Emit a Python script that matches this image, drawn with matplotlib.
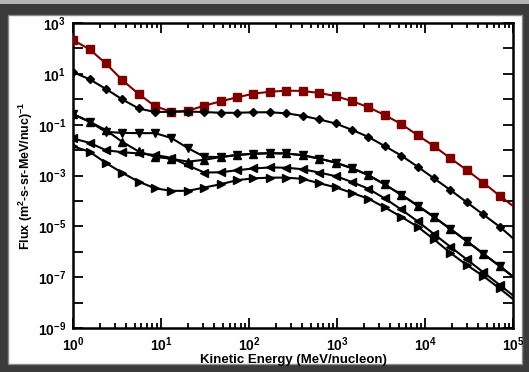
import matplotlib
matplotlib.use('Agg')
import matplotlib.pyplot as plt
from matplotlib.patches import Rectangle
from matplotlib.ticker import FixedLocator, FuncFormatter, LogLocator, NullFormatter
import numpy as np

plt.rcParams['font.family'] = ['Liberation Sans', 'DejaVu Sans']
plt.rcParams['font.weight'] = 'bold'
plt.rcParams['mathtext.fontset'] = 'custom'
plt.rcParams['mathtext.rm'] = 'Liberation Sans:bold'
plt.rcParams['mathtext.bf'] = 'Liberation Sans:bold'
plt.rcParams['mathtext.default'] = 'bf'

# kinetic energy grid (MeV/nucleon), last point has no marker
energy = [1.0, 1.54, 2.36, 3.62, 5.57, 8.55, 13.1, 20.2, 31.0, 47.6, 73.1,
          112, 173, 265, 407, 625, 960, 1475, 2266, 3480, 5346, 8212,
          12614, 19375, 29760, 45710, 70210, 100000]

# log10 of flux
log_flux_sq = [2.33, 1.97, 1.41, 0.76, 0.21, -0.27, -0.49, -0.45, -0.25, -0.08,
               0.08, 0.22, 0.30, 0.34, 0.33, 0.25, 0.13, -0.07, -0.31, -0.62,
               -0.97, -1.41, -1.84, -2.32, -2.78, -3.28, -3.79, -4.20]
log_flux_dm = [1.07, 0.79, 0.41, 0.00, -0.36, -0.50, -0.49, -0.48, -0.50, -0.53,
               -0.53, -0.51, -0.51, -0.55, -0.65, -0.79, -0.95, -1.20, -1.48, -1.84,
               -2.21, -2.65, -3.11, -3.57, -4.05, -4.53, -5.01, -5.47]
log_flux_dn = [-0.58, -0.88, -1.28, -1.32, -1.33, -1.33, -1.52, -1.92, -2.26, -2.27,
               -2.19, -2.14, -2.12, -2.13, -2.20, -2.33, -2.49, -2.71, -2.98, -3.35,
               -3.75, -4.18, -4.63, -5.10, -5.58, -6.07, -6.56, -6.98]
log_flux_up = [-0.58, -0.88, -1.21, -1.67, -2.05, -2.26, -2.34, -2.45, -2.38, -2.27,
               -2.19, -2.14, -2.12, -2.13, -2.20, -2.33, -2.49, -2.71, -2.98, -3.35,
               -3.75, -4.18, -4.63, -5.10, -5.58, -6.07, -6.56, -6.98]
log_flux_lf = [-1.54, -1.71, -2.00, -2.08, -2.13, -2.19, -2.30, -2.60, -2.88, -2.87,
               -2.79, -2.72, -2.68, -2.69, -2.75, -2.88, -3.02, -3.25, -3.52, -3.90,
               -4.33, -4.80, -5.30, -5.80, -6.30, -6.80, -7.30, -7.72]
log_flux_rt = [-1.85, -2.06, -2.50, -2.89, -3.24, -3.50, -3.60, -3.60, -3.47, -3.34,
               -3.18, -3.11, -3.08, -3.08, -3.13, -3.30, -3.46, -3.68, -3.91, -4.25,
               -4.62, -5.01, -5.51, -6.04, -6.52, -6.95, -7.44, -7.86]

series = [
    (log_flux_sq, 's', '#800000', 5.5),
    (log_flux_dm, 'D', 'black', 4.5),
    (log_flux_dn, 'v', 'black', 5.5),
    (log_flux_up, '^', 'black', 5.5),
    (log_flux_lf, '<', 'black', 5.5),
    (log_flux_rt, '>', 'black', 5.5),
]

fig = plt.figure(figsize=(5.29, 3.72), dpi=100, facecolor='#3b3b3b')

# backdrop: light strip on top and the white panel
bg = fig.add_axes([0, 0, 1, 1], zorder=-1)
bg.set_xlim(0, 1)
bg.set_ylim(0, 1)
bg.axis('off')
bg.add_patch(Rectangle((0, 0.988), 1, 0.012, facecolor='#b4b4b4', edgecolor='none'))
bg.add_patch(Rectangle((0.015, 0.022), 0.972, 0.939, facecolor='white',
                       edgecolor='#8a8a8a', lw=1))

ax = fig.add_axes([0.138, 0.118, 0.832, 0.820])
ax.set_facecolor('white')

marks = list(range(len(energy) - 1))
for logf, mk, col, ms in series:
    flux = [10 ** v for v in logf]
    ax.plot(energy, flux, color=col, lw=1.5, marker=mk, markersize=ms,
            markerfacecolor=col, markeredgecolor=col, markevery=marks, zorder=3)

ax.set_xscale('log')
ax.set_yscale('log')
ax.set_xlim(1, 1e5)
ax.set_ylim(1e-9, 1e3)

ax.xaxis.set_major_locator(FixedLocator([10.0 ** e for e in range(0, 6)]))
ax.xaxis.set_minor_locator(LogLocator(base=10, subs=np.arange(2, 10), numticks=20))
ax.xaxis.set_minor_formatter(NullFormatter())
ax.xaxis.set_major_formatter(FuncFormatter(lambda v, p: r'$10^{%d}$' % round(np.log10(v))))

ax.yaxis.set_major_locator(FixedLocator([10.0 ** e for e in range(-9, 4)]))
ax.yaxis.set_minor_locator(FixedLocator([]))


def ylab(v, p):
    e = int(round(np.log10(v)))
    return r'$10^{%d}$' % e if e % 2 else ''


ax.yaxis.set_major_formatter(FuncFormatter(ylab))

for s in ax.spines.values():
    s.set_linewidth(1.8)
ax.tick_params(which='both', direction='in', top=True, right=True, width=1.3,
               labelsize=10)
ax.tick_params(which='major', length=7, pad=5)
ax.tick_params(which='minor', length=3.5)

ax.set_xlabel('Kinetic Energy (MeV/nucleon)', fontsize=9.5, fontweight='bold', labelpad=0)
ax.set_ylabel(r'Flux (m$^{2}$-s-sr-MeV/nuc)$^{-1}$', fontsize=9, fontweight='bold', labelpad=2)

fig.savefig('out.png', dpi=100, facecolor=fig.get_facecolor())
